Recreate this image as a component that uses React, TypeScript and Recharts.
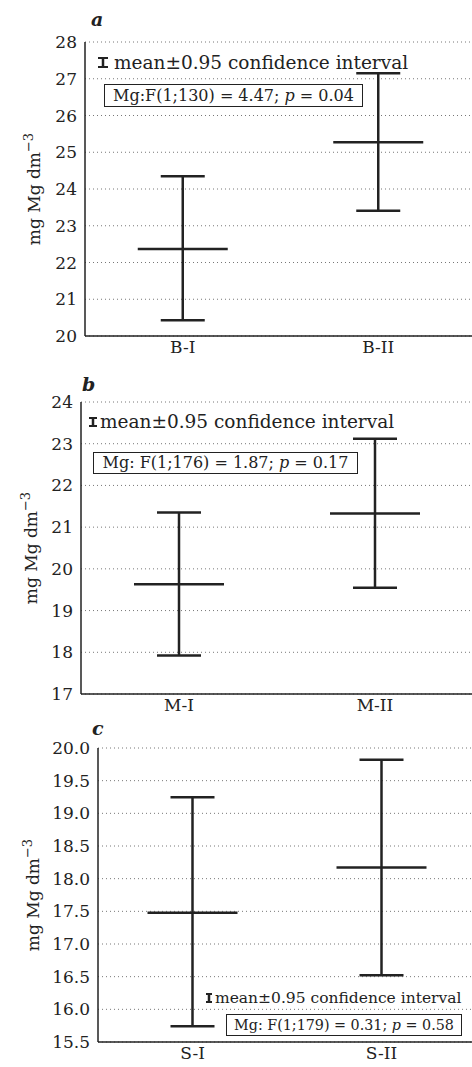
import React from 'react'
import {
  ComposedChart,
  Scatter,
  ErrorBar,
  XAxis,
  YAxis,
  CartesianGrid,
} from 'recharts'

// panel a
const catsA = ['B-I', 'B-II']
const meanA = [22.37, 25.27]
const lowA = [20.43, 23.41]
const highA = [24.35, 27.15]
const ticksA = [20, 21, 22, 23, 24, 25, 26, 27, 28]

// panel b
const catsB = ['M-I', 'M-II']
const meanB = [19.63, 21.33]
const lowB = [17.92, 19.55]
const highB = [21.35, 23.12]
const ticksB = [17, 18, 19, 20, 21, 22, 23, 24]

// panel c
const catsC = ['S-I', 'S-II']
const meanC = [17.48, 18.17]
const lowC = [15.74, 16.52]
const highC = [19.245, 19.82]
const ticksC = [15.5, 16, 16.5, 17, 17.5, 18, 18.5, 19, 19.5, 20]

const INK = '#222'
const FONT = '"DejaVu Serif", serif'

const buildRows = (cats: string[], mean: number[], low: number[], high: number[]) =>
  cats.map((cat, i) => ({
    cat,
    mean: mean[i],
    err: [mean[i] - low[i], high[i] - mean[i]],
  }))

const MeanLine = (props: any) => {
  const { cx, cy } = props
  return <line x1={cx - 45} x2={cx + 45} y1={cy} y2={cy} stroke={INK} strokeWidth={2.5} />
}

const YLabel = (props: any) => {
  const vb = props.viewBox || { y: 0, height: 0 }
  const cy = vb.y + vb.height / 2
  return (
    <text
      transform={`translate(${props.x0},${cy}) rotate(-90)`}
      textAnchor="middle"
      fontSize={17}
      fontFamily={FONT}
      fill={INK}
    >
      mg Mg dm
      <tspan dy={-7} fontSize={13}>
        −3
      </tspan>
    </text>
  )
}

type PanelProps = {
  top: number
  height: number
  marginTop: number
  marginRight: number
  yWidth: number
  xHeight: number
  marginBottom: number
  labelX: number
  rows: any[]
  ticks: number[]
  decimals: number
}

function Panel(p: PanelProps) {
  const lo = p.ticks[0]
  const hi = p.ticks[p.ticks.length - 1]
  return (
    <div style={{ position: 'absolute', left: 0, top: p.top }}>
      <ComposedChart
        width={480}
        height={p.height}
        data={p.rows}
        margin={{ top: p.marginTop, right: p.marginRight, bottom: p.marginBottom, left: 0 }}
      >
        <CartesianGrid
          vertical={false}
          stroke="#777"
          strokeDasharray="1 3"
          strokeWidth={1}
        />
        <XAxis
          dataKey="cat"
          type="category"
          scale="band"
          height={p.xHeight}
          stroke={INK}
          strokeWidth={1.5}
          tickLine={false}
          tickSize={3}
          tickMargin={2}
          tick={{ fill: INK, fontSize: 17, fontFamily: FONT }}
        />
        <XAxis
          xAxisId="top"
          dataKey="cat"
          type="category"
          scale="band"
          orientation="top"
          height={0}
          mirror
          tick={false}
          tickSize={3}
          stroke={INK}
          strokeWidth={1.5}
        />
        <YAxis
          type="number"
          domain={[lo, hi]}
          ticks={p.ticks}
          interval={0}
          width={p.yWidth}
          axisLine={{ stroke: INK, strokeWidth: 1.5 }}
          tickLine={false}
          tickFormatter={(v: number) => v.toFixed(p.decimals)}
          tick={{ fill: INK, fontSize: 17, fontFamily: FONT }}
          label={(lp: any) => <YLabel {...lp} x0={p.labelX} />}
        />
        <Scatter dataKey="mean" shape={MeanLine} isAnimationActive={false}>
          <ErrorBar
            dataKey="err"
            direction="y"
            width={22}
            stroke={INK}
            strokeWidth={2.5}
          />
        </Scatter>
      </ComposedChart>
    </div>
  )
}

const Icon = ({ w, h }: { w: number; h: number }) => (
  <svg width={w} height={h} style={{ display: 'block' }}>
    <line x1={w / 2} x2={w / 2} y1={1} y2={h - 1} stroke={INK} strokeWidth={2.5} />
    <line x1={1} x2={w - 1} y1={1} y2={1} stroke={INK} strokeWidth={2} />
    <line x1={1} x2={w - 1} y1={h - 1} y2={h - 1} stroke={INK} strokeWidth={2} />
  </svg>
)

const abs = (left: number, top: number, extra: React.CSSProperties = {}): React.CSSProperties => ({
  position: 'absolute',
  left,
  top,
  fontFamily: FONT,
  color: INK,
  whiteSpace: 'nowrap',
  ...extra,
})

export default function App() {
  return (
    <div
      style={{
        position: 'absolute',
        left: 0,
        top: 0,
        width: 472,
        height: 1067,
        overflow: 'hidden',
        background: '#fff',
      }}
    >
      <Panel
        top={0}
        height={370}
        marginTop={42}
        marginRight={4}
        yWidth={85}
        xHeight={30}
        marginBottom={4}
        labelX={40}
        rows={buildRows(catsA, meanA, lowA, highA)}
        ticks={ticksA}
        decimals={0}
      />
      <Panel
        top={370}
        height={360}
        marginTop={32}
        marginRight={7}
        yWidth={81}
        xHeight={30}
        marginBottom={6}
        labelX={37}
        rows={buildRows(catsB, meanB, lowB, highB)}
        ticks={ticksB}
        decimals={0}
      />
      <Panel
        top={730}
        height={337}
        marginTop={18}
        marginRight={4}
        yWidth={98}
        xHeight={25}
        marginBottom={0}
        labelX={39}
        rows={buildRows(catsC, meanC, lowC, highC)}
        ticks={ticksC}
        decimals={1}
      />

      {/* panel letters */}
      <div style={abs(91, 8, { fontSize: 19, fontWeight: 'bold', fontStyle: 'italic' })}>a</div>
      <div style={abs(82, 373, { fontSize: 19, fontWeight: 'bold', fontStyle: 'italic' })}>b</div>
      <div style={abs(92, 717, { fontSize: 19, fontWeight: 'bold', fontStyle: 'italic' })}>c</div>

      {/* panel a notes */}
      <div style={abs(97, 57)}>
        <Icon w={12} h={11} />
      </div>
      <div style={abs(114, 51, { fontSize: 18.5, lineHeight: '24px' })}>mean±0.95 confidence interval</div>
      <div
        style={abs(104, 84, {
          width: 257,
          height: 21,
          border: `1.5px solid ${INK}`,
          fontSize: 16,
          lineHeight: '21px',
          textAlign: 'center',
        })}
      >
        Mg:F(1;130) = 4.47; <i>p</i> = 0.04
      </div>

      {/* panel b notes */}
      <div style={abs(88, 417)}>
        <Icon w={10} h={10} />
      </div>
      <div style={abs(100, 410, { fontSize: 18.5, lineHeight: '24px' })}>mean±0.95 confidence interval</div>
      <div
        style={abs(93, 452, {
          width: 263,
          height: 20,
          border: `1.5px solid ${INK}`,
          fontSize: 16,
          lineHeight: '20px',
          textAlign: 'center',
        })}
      >
        Mg: F(1;176) = 1.87; <i>p</i> = 0.17
      </div>

      {/* panel c notes */}
      <div style={abs(205, 993)}>
        <Icon w={8} h={10} />
      </div>
      <div style={abs(215, 988, { fontSize: 15.5, lineHeight: '20px' })}>mean±0.95 confidence interval</div>
      <div
        style={abs(226, 1014, {
          width: 234,
          height: 20,
          border: `1.5px solid ${INK}`,
          fontSize: 14.3,
          lineHeight: '20px',
          textAlign: 'center',
        })}
      >
        Mg: F(1;179) = 0.31; <i>p</i> = 0.58
      </div>
    </div>
  )
}
